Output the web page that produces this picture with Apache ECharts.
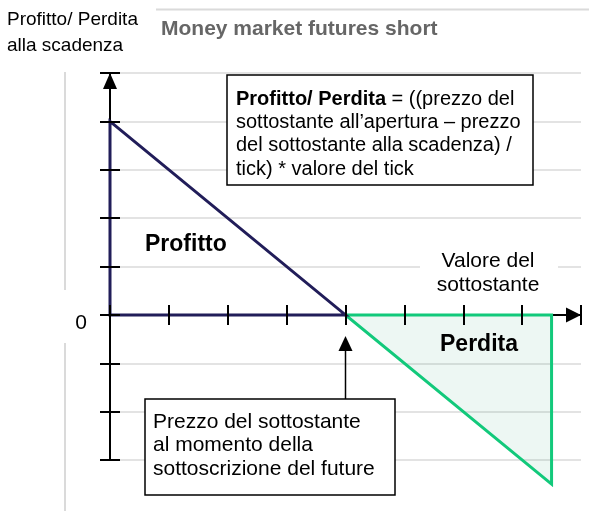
<!DOCTYPE html>
<html>
<head>
<meta charset="utf-8">
<script src="https://cdn.jsdelivr.net/npm/echarts@6/dist/echarts.min.js"></script>
<style>
  html, body { margin: 0; padding: 0; background: #fff; }
  #chart { width: 589px; height: 511px; }
</style>
</head>
<body>
<div id="chart"></div>
<script>
  // payoff at expiry, short money market future (strike at x = 4)
  const profitX = [0, 0, 4];
  const profitY = [0, 4, 0];
  const lossX = [4, 7.5, 7.5];
  const lossY = [0, 0, -3.5];
  const yTickLabels = { 0: '0' };

  const FONT = 'Liberation Sans, Arial, sans-serif';
  const chart = echarts.init(document.getElementById('chart'));

  function pts(xs, ys) {
    return xs.map(function (x, i) { return [x, ys[i]]; });
  }

  function triangle(color, fill) {
    return function (params, api) {
      if (params.dataIndex !== 0) return;
      const data = params.seriesIndex === 0 ? pts(profitX, profitY) : pts(lossX, lossY);
      return {
        type: 'polygon',
        shape: { points: data.map(function (p) { return api.coord(p); }) },
        style: { fill: fill, stroke: color, lineWidth: 3, lineJoin: 'miter' }
      };
    };
  }

  function tickAxis(dim, inside) {
    const a = {
      type: 'value', min: dim === 'x' ? 0 : -3, max: dim === 'x' ? 8 : 5, interval: 1,
      axisLine: { show: true, onZero: dim === 'x', lineStyle: { color: 'rgba(0,0,0,0)' } },
      axisTick: { show: true, inside: inside, length: 10, lineStyle: { color: '#000', width: 2 } },
      axisLabel: { show: false },
      splitLine: { show: false },
      z: 5
    };
    if (dim === 'x') a.axisLine.onZeroAxisIndex = 0;
    a.position = dim === 'x' ? 'bottom' : 'left';
    return a;
  }

  const option = {
    animation: false,
    grid: { left: 110, top: 73, width: 471, height: 387 },
    xAxis: [
      {
        type: 'value', min: 0, max: 8, interval: 1, position: 'bottom',
        axisLine: {
          onZero: true, onZeroAxisIndex: 0,
          lineStyle: { color: '#000', width: 2 },
          symbol: ['none', 'triangle'], symbolSize: [15, 15], symbolOffset: [0, -7.5]
        },
        axisTick: { show: false },
        axisLabel: { show: false },
        splitLine: { show: false },
        z: 0
      },
      tickAxis('x', true),
      tickAxis('x', false)
    ],
    yAxis: [
      {
        type: 'value', min: -3, max: 5, interval: 1, position: 'left',
        axisLine: {
          show: true, onZero: false,
          lineStyle: { color: '#000', width: 2 },
          symbol: ['none', 'triangle'], symbolSize: [14, 16], symbolOffset: [0, -8]
        },
        axisTick: { show: false },
        axisLabel: {
          margin: 23, color: '#000', fontSize: 21, fontFamily: FONT,
          verticalAlign: 'top', lineHeight: 16,
          formatter: function (v) { return yTickLabels[v] || ''; }
        },
        splitLine: { show: true, lineStyle: { color: '#dadada', width: 1.5 } },
        z: 0
      },
      tickAxis('y', true),
      tickAxis('y', false)
    ],
    series: [
      {
        type: 'custom', xAxisIndex: 0, yAxisIndex: 0, z: 3, clip: false,
        data: pts(profitX, profitY),
        renderItem: triangle('#211d59', 'none')
      },
      {
        type: 'custom', xAxisIndex: 0, yAxisIndex: 0, z: 2, clip: false,
        data: pts(lossX, lossY),
        renderItem: triangle('#12c97b', 'rgba(20,150,100,0.08)')
      }
    ],
    graphic: [
      // frame remnants
      { type: 'line', shape: { x1: 156, y1: 9.5, x2: 589, y2: 9.5 }, style: { stroke: '#dadada', lineWidth: 2 } },
      { type: 'line', shape: { x1: 65, y1: 72, x2: 65, y2: 290 }, style: { stroke: '#dadada', lineWidth: 2 } },
      { type: 'line', shape: { x1: 65, y1: 343, x2: 65, y2: 511 }, style: { stroke: '#dadada', lineWidth: 2 } },
      {
        type: 'text', x: 7, y: 7,
        style: { text: 'Profitto/ Perdita\nalla scadenza', fill: '#000', font: '19px ' + FONT, lineHeight: 26 }
      },
      {
        type: 'text', x: 161, y: 17,
        style: { text: 'Money market futures short', fill: '#666', font: 'bold 21px ' + FONT, lineHeight: 24 }
      },
      // formula box
      {
        type: 'rect', shape: { x: 227, y: 75, width: 306, height: 110 }, z: 10,
        style: { fill: '#fff', stroke: '#000', lineWidth: 1.5 }
      },
      {
        type: 'text', x: 236, y: 87.5, z: 11,
        style: {
          text: '{b|Profitto/ Perdita}{n| = ((prezzo del}\n{n|sottostante all\u2019apertura \u2013 prezzo}\n{n|del sottostante alla scadenza) /}\n{n|tick) * valore del tick}',
          fill: '#000', font: '20px ' + FONT,
          rich: {
            b: { fontWeight: 'bold', fontSize: 20, fontFamily: FONT, lineHeight: 23.3, fill: '#000' },
            n: { fontSize: 20, fontFamily: FONT, lineHeight: 23.3, fill: '#000' }
          }
        }
      },
      // x axis name
      { type: 'rect', shape: { x: 420, y: 252, width: 138, height: 44 }, z: 10, style: { fill: '#fff' } },
      {
        type: 'text', x: 488, y: 249, z: 11,
        style: { text: 'Valore del\nsottostante', fill: '#000', font: '21px ' + FONT, lineHeight: 24, align: 'center', textAlign: 'center' }
      },
      {
        type: 'text', x: 145, y: 231, z: 11,
        style: { text: 'Profitto', fill: '#000', font: 'bold 23px ' + FONT, lineHeight: 28 }
      },
      {
        type: 'text', x: 440, y: 331, z: 11,
        style: { text: 'Perdita', fill: '#000', font: 'bold 23px ' + FONT, lineHeight: 28 }
      },
      // strike pointer
      { type: 'line', shape: { x1: 345.5, y1: 349, x2: 345.5, y2: 399 }, z: 10, style: { stroke: '#000', lineWidth: 1.5 } },
      { type: 'polygon', shape: { points: [[345.5, 336], [338.5, 351], [352.5, 351]] }, z: 10, style: { fill: '#000' } },
      {
        type: 'rect', shape: { x: 145, y: 399, width: 250, height: 96 }, z: 10,
        style: { fill: '#fff', stroke: '#000', lineWidth: 1.5 }
      },
      {
        type: 'text', x: 153, y: 410, z: 11,
        style: { text: 'Prezzo del sottostante\nal momento della\nsottoscrizione del future', fill: '#000', font: '21px ' + FONT, lineHeight: 23.8 }
      }
    ]
  };

  chart.setOption(option);
</script>
</body>
</html>
